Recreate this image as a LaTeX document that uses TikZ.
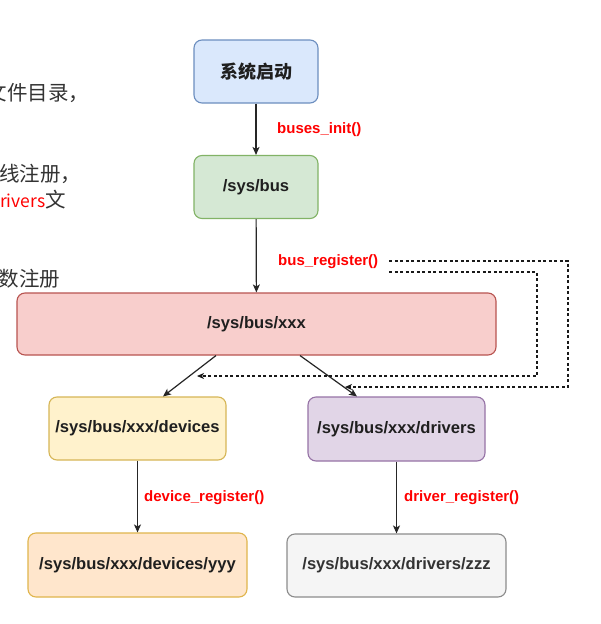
\documentclass[tikz,border=0pt]{standalone}
\usepackage{fontspec}
\setmainfont{Liberation Sans}
\newfontfamily\cjk{Noto Sans CJK SC}
\usetikzlibrary{arrows.meta,calc}
\definecolor{bfill}{HTML}{DAE8FC}\definecolor{bdraw}{HTML}{6C8EBF}
\definecolor{gfill}{HTML}{D5E8D4}\definecolor{gdraw}{HTML}{82B366}
\definecolor{rfill}{HTML}{F8CECC}\definecolor{rdraw}{HTML}{B85450}
\definecolor{yfill}{HTML}{FFF2CC}\definecolor{ydraw}{HTML}{D6B656}
\definecolor{pfill}{HTML}{E1D5E7}\definecolor{pdraw}{HTML}{9673A6}
\definecolor{ofill}{HTML}{FFE6CC}\definecolor{odraw}{HTML}{E0B54C}
\definecolor{sfill}{HTML}{F5F5F5}\definecolor{sdraw}{HTML}{8C8C8C}
\definecolor{txtgray}{HTML}{333333}
\tikzset{
  box/.style={draw, rounded corners=8pt, line width=1.1pt, minimum height=63pt,
    font=\bfseries\fontsize{16.6}{20}\selectfont, text=black!88},
  lbl/.style={anchor=west, inner sep=0pt, text=red, font=\bfseries\fontsize{15}{18}\selectfont},
  side/.style={anchor=west, inner sep=0pt, text=txtgray, font=\cjk\fontsize{20.5}{23}\selectfont},
  arr/.style={draw=black!85, line width=1.2pt, -{Stealth[length=8pt,width=7pt,inset=2pt]}},
  dasharr/.style={draw=black!90, line width=1.1pt, dash pattern=on 3pt off 2.5pt,
    -{Stealth[length=7pt,width=6pt,inset=2pt]}}
}
\begin{document}
\begin{tikzpicture}[x=1pt,y=-1pt]
\useasboundingbox[fill=white] (0,0) rectangle (601,624);
% cut-off text of the surrounding page
\begin{scope}
\clip (0,0) rectangle (601,624);
\node[side] (t1) at (-13.5,93) {文件目录，};
\node[side] (t2) at (-1,173.5) {线注册，};
\node[side] (t3) at (0,200) {{\color{red}\fontsize{17.5}{20}\selectfont rivers}文};
\node[side] (t4) at (-1.5,279) {数注册};
\end{scope}
% boxes
\node[box, fill=bfill, draw=bdraw, minimum width=124pt] (start) at (256,71.5) {\cjk\bfseries\fontsize{18}{20}\selectfont 系统启动};
\node[box, fill=gfill, draw=gdraw, minimum width=124pt] (bus) at (256,187) {/sys/bus};
\node[box, fill=rfill, draw=rdraw, minimum width=479pt, minimum height=62pt] (xxx) at (256.5,324) {/sys/bus/xxx};
\node[box, fill=yfill, draw=ydraw, minimum width=177pt] (dev) at (137.5,428.5) {/sys/bus/xxx/devices};
\node[box, fill=pfill, draw=pdraw, minimum width=177pt, minimum height=64pt] (drv) at (396.5,429) {/sys/bus/xxx/drivers};
\node[box, fill=ofill, draw=odraw, minimum width=219pt, minimum height=64pt] (yyy) at (137.5,565) {/sys/bus/xxx/devices/yyy};
\node[box, fill=sfill, draw=sdraw, minimum width=219pt, text=txtgray] (zzz) at (396.5,565.5) {/sys/bus/xxx/drivers/zzz};
% labels
\node[lbl] (binit) at (277,130) {buses\_init()};
\node[lbl] (breg) at (278,262) {bus\_register()};
\node[lbl] (dreg) at (144,498) {device\_register()};
\node[lbl] (vreg) at (404,498) {driver\_register()};
% solid arrows
\draw[arr] (start) -- (bus);
\draw[arr] (bus) -- (xxx);
\draw[arr] ([xshift=-40.5pt]xxx.south) -- ([xshift=25.5pt]dev.north);
\draw[arr] ([xshift=43.5pt]xxx.south) -- ([xshift=-39.5pt]drv.north);
\draw[arr] (dev) -- (yyy);
\draw[arr] (drv.south) -- (drv.south |- zzz.north);
% dashed arrows from bus_register()
\coordinate (o0) at ($(breg.east)+(11,-1)$);
\coordinate (o1) at (568,261);
\coordinate (o2) at (345,387);
\coordinate (i0) at ($(breg.east)+(11,10)$);
\coordinate (i1) at (537,272);
\coordinate (i2) at (197,376);
\draw[dasharr] (o0) -- (o0 -| o1) |- (o2);
\draw[dasharr] (i0) -- (i0 -| i1) |- (i2);
\end{tikzpicture}
\end{document}
